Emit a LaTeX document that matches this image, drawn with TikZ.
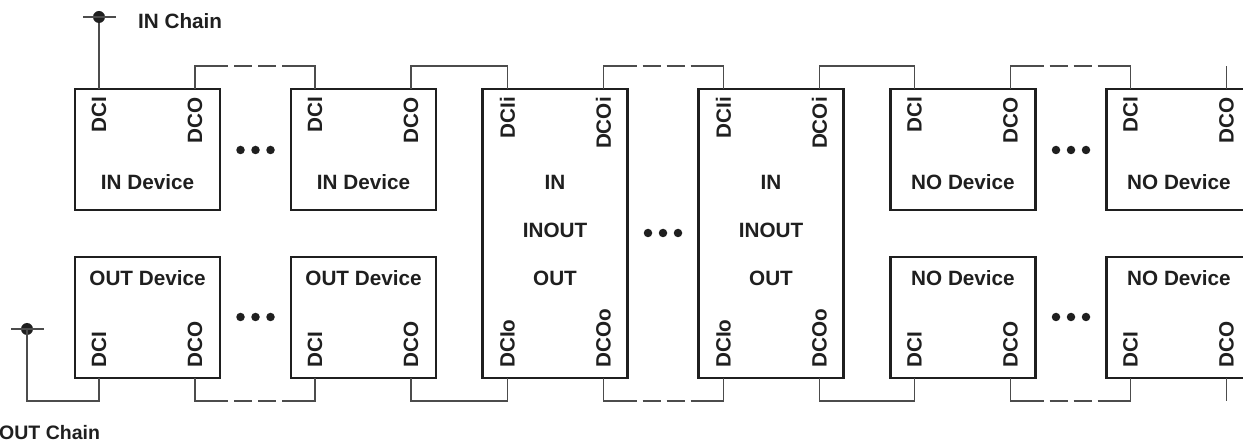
\documentclass[tikz,border=0pt]{standalone}
\usepackage{fontspec}
\setmainfont{Liberation Sans}
\usetikzlibrary{calc}
\definecolor{wirecol}{gray}{0.3}
\definecolor{boxcol}{gray}{0.12}
\tikzset{
  dev/.style={draw=boxcol, line width=2.8pt, minimum width=145pt, inner sep=0pt, outer sep=0pt},
  shortdev/.style={dev, minimum height=121pt},
  talldev/.style={dev, minimum height=289pt},
  lbl/.style={font=\fontsize{20.7}{24}\selectfont\bfseries, text=boxcol, inner sep=0pt},
  port/.style={lbl, rotate=90},
  wire/.style={draw=wirecol, line width=1.1pt},
  dashwire/.style={wire, dash pattern=on 56pt off 6pt on 18pt off 6pt on 18pt off 6pt on 80pt},
  dotmark/.style={circle, fill=boxcol, inner sep=0pt, minimum size=8.5pt},
  chaindot/.style={circle, fill=boxcol, inner sep=0pt, minimum size=12pt},
}
\begin{document}
\begin{tikzpicture}[x=1pt,y=-1pt]
\useasboundingbox (0,0) rectangle (1243,446);
\clip (0,0) rectangle (1243,446);
% top row
\node[shortdev] (t1) at (147.5,149.5) {};
\node[shortdev] (t2) at (363.5,149.5) {};
\node[talldev]  (m3) at (555,233.5) {};
\node[talldev]  (m4) at (771,233.5) {};
\node[shortdev] (t5) at (963,149.5) {};
\node[shortdev] (t6) at (1179,149.5) {};
% bottom row
\node[shortdev] (u1) at (147.5,317.5) {};
\node[shortdev] (u2) at (363.5,317.5) {};
\node[shortdev] (u5) at (963,317.5) {};
\node[shortdev] (u6) at (1179,317.5) {};
% centre texts
\node[lbl] (t1txt) at (147.5,182) {IN Device};
\node[lbl] (t2txt) at (363.5,182) {IN Device};
\node[lbl] (t5txt) at (963,182) {NO Device};
\node[lbl] (t6txt) at (1179,182) {NO Device};
\node[lbl] (u1txt) at (147.5,278) {OUT Device};
\node[lbl] (u2txt) at (363.5,278) {OUT Device};
\node[lbl] (u5txt) at (963,278) {NO Device};
\node[lbl] (u6txt) at (1179,278) {NO Device};
\foreach \b/\c in {m3/555,m4/771}{
  \node[lbl] (\b a) at (\c,182) {IN};
  \node[lbl] (\b b) at (\c,230) {INOUT};
  \node[lbl] (\b c) at (\c,278) {OUT};
}
% port coordinates
\foreach \b in {t1,t2,t5,t6}{
  \coordinate (\b i) at ([xshift=24pt]\b.north west);
  \coordinate (\b o) at ([xshift=120pt]\b.north west);
  \node[port, anchor=east] (\b il) at ([yshift=-8pt]\b i) {DCI};
  \node[port, anchor=east] (\b ol) at ([yshift=-8pt]\b o) {DCO};
}
\foreach \b in {u1,u2,u5,u6}{
  \coordinate (\b i) at ([xshift=24pt]\b.south west);
  \coordinate (\b o) at ([xshift=120pt]\b.south west);
  \node[port, anchor=west] (\b il) at ([yshift=10pt]\b i) {DCI};
  \node[port, anchor=west] (\b ol) at ([yshift=10pt]\b o) {DCO};
}
\foreach \b in {m3,m4}{
  \coordinate (\b ii) at ([xshift=25pt]\b.north west);
  \coordinate (\b oi) at ([xshift=121pt]\b.north west);
  \coordinate (\b io) at ([xshift=25pt]\b.south west);
  \coordinate (\b oo) at ([xshift=121pt]\b.south west);
  \node[port, anchor=east] (\b iil) at ([yshift=-8pt]\b ii) {DCIi};
  \node[port, anchor=east] (\b oil) at ([yshift=-8pt]\b oi) {DCOi};
  \node[port, anchor=west] (\b iol) at ([yshift=10pt]\b io) {DCIo};
  \node[port, anchor=west] (\b ool) at ([yshift=10pt]\b oo) {DCOo};
}
% bus levels
\coordinate (topbus) at (0,66);
\coordinate (botbus) at (0,401);
% top connections
\draw[dashwire] (t1o) -- (t1o |- topbus) -- (t2i |- topbus) -- (t2i);
\draw[wire] (t2o) -- (t2o |- topbus) -- (m3ii |- topbus) -- (m3ii);
\draw[dashwire] (m3oi) -- (m3oi |- topbus) -- (m4ii |- topbus) -- (m4ii);
\draw[wire] (m4oi) -- (m4oi |- topbus) -- (t5i |- topbus) -- (t5i);
\draw[dashwire] (t5o) -- (t5o |- topbus) -- (t6i |- topbus) -- (t6i);
\draw[wire] (t6o) -- (t6o |- topbus);
% bottom connections
\draw[dashwire] (u1o) -- (u1o |- botbus) -- (u2i |- botbus) -- (u2i);
\draw[wire] (u2o) -- (u2o |- botbus) -- (m3io |- botbus) -- (m3io);
\draw[dashwire] (m3oo) -- (m3oo |- botbus) -- (m4io |- botbus) -- (m4io);
\draw[wire] (m4oo) -- (m4oo |- botbus) -- (u5i |- botbus) -- (u5i);
\draw[dashwire] (u5o) -- (u5o |- botbus) -- (u6i |- botbus) -- (u6i);
\draw[wire] (u6o) -- (u6o |- botbus);
% IN chain
\node[chaindot] (indot) at (99,17) {};
\coordinate (inL) at (83,17);
\coordinate (inR) at (116,17);
\draw[wire] (inL) -- (inR);
\draw[wire] (indot) -- (t1i);
\node[lbl, anchor=west] (inchain) at (138,21) {IN Chain};
% OUT chain
\node[chaindot] (outdot) at (27,329) {};
\coordinate (outL) at (11,329);
\coordinate (outR) at (44,329);
\draw[wire] (outL) -- (outR);
\draw[wire] (outdot.center) -- (outdot |- botbus) -- (u1i |- botbus) -- (u1i);
\node[lbl, anchor=west, font=\fontsize{19.5}{24}\selectfont\bfseries] (outchain) at (-1,433) {OUT Chain};
% ellipsis dots
\foreach \cx/\cy/\n in {255.5/150/a, 255.5/317/b, 663/233/c, 1071/150/d, 1071/317/e}{
  \node[dotmark] (\n1) at (\cx-15,\cy) {};
  \node[dotmark] (\n2) at (\cx,\cy) {};
  \node[dotmark] (\n3) at (\cx+15,\cy) {};
}
\end{tikzpicture}
\end{document}
